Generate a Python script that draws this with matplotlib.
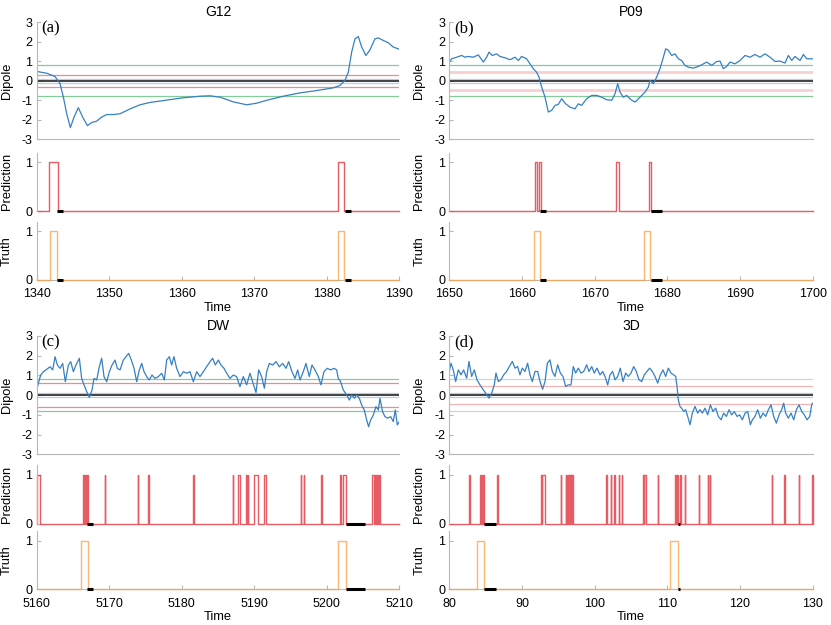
import numpy as np
import matplotlib.pyplot as plt

plt.rcParams['font.family'] = ['Liberation Sans', 'DejaVu Sans']
plt.rcParams['axes.unicode_minus'] = False

# ---- dipole traces ----
t_a = [1340.0, 1341.38, 1342.53, 1343.22, 1343.68, 1344.14, 1344.64, 1345.15, 1345.74, 1346.34,
       1346.99, 1347.58, 1348.27, 1348.96, 1349.65, 1350.57, 1351.49, 1352.87, 1354.25, 1355.63,
       1357.92, 1360.22, 1362.52, 1363.9, 1365.28, 1367.11, 1368.95, 1370.33, 1371.71, 1374.01,
       1376.3, 1378.6, 1380.9, 1381.82, 1382.51, 1382.97, 1383.43, 1383.89, 1384.35, 1384.81,
       1385.4, 1385.96, 1386.64, 1387.1, 1387.79, 1388.48, 1389.17, 1390.0]
d_a = [0.48, 0.39, 0.22, -0.15, -0.84, -1.69, -2.4, -1.86, -1.38, -1.86,
       -2.3, -2.14, -2.07, -1.86, -1.73, -1.73, -1.69, -1.44, -1.23, -1.11,
       -0.99, -0.87, -0.79, -0.77, -0.84, -1.08, -1.23, -1.15, -1.0, -0.79,
       -0.62, -0.5, -0.36, -0.24, 0.02, 0.44, 1.47, 2.15, 2.27, 1.73,
       1.30, 1.59, 2.15, 2.2, 2.07, 1.95, 1.73, 1.62]

t_b = [1650.0, 1650.32, 1651.01, 1651.7, 1652.16, 1652.61, 1653.3, 1653.99, 1654.68, 1655.14,
       1655.46, 1655.92, 1656.51, 1656.97, 1657.66, 1658.35, 1659.04, 1659.5, 1659.95, 1660.64,
       1661.1, 1661.56, 1662.02, 1662.34, 1662.71, 1663.17, 1663.62, 1664.08, 1664.54, 1665.0,
       1665.46, 1666.01, 1666.61, 1667.29, 1667.75, 1668.21, 1668.9, 1669.59, 1670.28, 1670.96,
       1671.65, 1672.34, 1672.8, 1673.17, 1673.49, 1673.94, 1674.4, 1675.0, 1675.55, 1676.24,
       1676.93, 1677.39, 1677.61, 1678.07, 1678.53, 1678.99, 1679.45, 1679.77, 1680.14, 1680.6,
       1681.06, 1681.51, 1681.97, 1682.43, 1682.89, 1683.58, 1684.27, 1684.72, 1685.41, 1686.1,
       1686.79, 1687.25, 1687.71, 1688.17, 1688.62, 1689.31, 1690.0, 1690.69, 1691.38, 1692.06,
       1692.75, 1693.44, 1694.13, 1694.82, 1695.5, 1696.19, 1696.65, 1697.11, 1697.57, 1698.26,
       1698.72, 1699.17, 1700.0]
d_b = [0.96, 1.13, 1.21, 1.30, 1.21, 1.25, 1.21, 1.33, 0.96, 1.21,
       1.47, 1.30, 1.38, 1.25, 1.18, 1.08, 1.21, 1.04, 1.25, 1.13,
       0.87, 0.62, 0.44, 0.19, -0.32, -0.84, -1.6, -1.52, -1.26, -1.21,
       -0.92, -1.18, -1.35, -1.44, -1.18, -1.26, -0.92, -0.75, -0.75, -0.84,
       -0.97, -1.0, -0.67, -0.15, -0.58, -0.84, -0.75, -0.97, -1.09, -0.84,
       -0.58, -0.32, 0.02, -0.15, 0.19, 0.62, 1.21, 1.64, 1.56, 1.30,
       1.38, 1.13, 1.04, 0.79, 0.70, 0.65, 0.74, 0.82, 0.96, 0.79,
       0.99, 1.01, 0.62, 0.74, 0.96, 0.87, 1.04, 1.30, 1.21, 1.35,
       1.21, 1.38, 1.21, 0.99, 1.01, 0.91, 1.30, 1.04, 1.25, 1.04,
       1.35, 1.13, 1.13]

t_c = [5160.0, 5160.23, 5160.55, 5160.92, 5161.38, 5161.84, 5162.21, 5162.53, 5162.85, 5163.22,
       5163.58, 5163.95, 5164.37, 5164.69, 5165.06, 5165.42, 5165.88, 5166.2, 5166.53, 5166.89,
       5167.26, 5167.63, 5167.9, 5168.27, 5168.64, 5168.96, 5169.28, 5169.65, 5170.02, 5170.39,
       5170.8, 5171.12, 5171.49, 5171.95, 5172.32, 5172.68, 5173.05, 5173.42, 5173.79, 5174.15,
       5174.48, 5174.8, 5175.17, 5175.53, 5175.9, 5176.31, 5176.77, 5177.23, 5177.6, 5177.92,
       5178.29, 5178.61, 5178.93, 5179.3, 5179.76, 5180.22, 5180.68, 5181.14, 5181.6, 5182.06,
       5182.52, 5182.98, 5183.44, 5183.9, 5184.26, 5184.63, 5185.05, 5185.41, 5185.83, 5186.2,
       5186.65, 5187.11, 5187.57, 5188.03, 5188.49, 5188.95, 5189.41, 5189.78, 5190.24, 5190.61,
       5191.02, 5191.39, 5191.71, 5192.08, 5192.54, 5193.0, 5193.46, 5193.92, 5194.38, 5194.74,
       5195.2, 5195.62, 5195.98, 5196.31, 5196.76, 5197.13, 5197.59, 5197.96, 5198.37, 5198.83,
       5199.2, 5199.61, 5200.07, 5200.53, 5200.99, 5201.36, 5201.59, 5201.91, 5202.28, 5202.74,
       5203.11, 5203.43, 5203.8, 5204.12, 5204.49, 5204.81, 5205.17, 5205.5, 5205.77, 5206.05,
       5206.42, 5206.78, 5207.11, 5207.33, 5207.7, 5208.02, 5208.39, 5208.81, 5209.17, 5209.45,
       5209.72, 5210.0]
d_c = [0.26, 0.6, 1.02, 1.19, 1.31, 1.44, 1.28, 1.95, 1.53, 1.36,
       1.61, 0.68, 1.53, 1.70, 1.19, 1.53, 1.87, 0.85, 0.52, 0.18,
       -0.11, 0.26, 0.85, 0.77, 1.44, 1.87, 0.94, 0.68, 1.19, 1.53,
       1.78, 1.36, 1.28, 1.78, 1.95, 2.12, 1.78, 1.36, 0.68, 1.28,
       1.61, 1.19, 0.94, 0.77, 1.02, 0.85, 0.94, 1.11, 0.77, 1.78,
       1.95, 1.53, 1.95, 1.36, 0.94, 1.19, 1.11, 1.19, 0.68, 1.19,
       0.94, 1.19, 1.44, 1.70, 1.87, 1.53, 1.78, 1.53, 1.36, 1.11,
       0.85, 1.02, 0.94, 0.43, 0.94, 0.52, 1.11, 0.68, 0.13, 1.28,
       0.94, 0.35, 1.19, 1.61, 1.53, 1.70, 1.44, 1.61, 1.36, 1.70,
       1.19, 0.85, 1.28, 0.77, 1.19, 1.61, 0.94, 1.53, 1.28, 0.94,
       0.52, 1.19, 1.36, 1.28, 1.36, 1.28, 0.85, 0.68, 0.26, 0.01,
       -0.25, 0.01, -0.16, 0.01, -0.16, -0.50, -0.75, -1.26, -1.60, -1.26,
       -1.01, -0.58, -0.75, -0.16, -0.84, -1.09, -1.17, -1.09, -1.34, -0.75,
       -1.51, -1.34]

t_d = [80.0, 80.23, 80.55, 80.87, 81.24, 81.61, 81.97, 82.39, 82.71, 83.07,
       83.44, 83.81, 84.22, 84.68, 85.14, 85.46, 85.83, 86.19, 86.42, 86.74,
       87.11, 87.48, 87.89, 88.26, 88.67, 89.04, 89.4, 89.72, 90.05, 90.41,
       90.78, 91.1, 91.42, 91.79, 92.16, 92.48, 92.84, 93.17, 93.49, 93.85,
       94.17, 94.54, 94.91, 95.28, 95.64, 96.01, 96.38, 96.74, 97.06, 97.39,
       97.75, 98.12, 98.49, 98.9, 99.22, 99.59, 99.95, 100.32, 100.73, 101.1,
       101.42, 101.79, 102.11, 102.48, 102.8, 103.17, 103.53, 103.9, 104.27, 104.63,
       105.0, 105.37, 105.73, 106.1, 106.47, 106.83, 107.2, 107.57, 107.94, 108.3,
       108.67, 109.04, 109.4, 109.77, 110.14, 110.5, 110.87, 111.15, 111.33, 111.51,
       111.74, 111.97, 112.25, 112.52, 112.8, 113.12, 113.44, 113.81, 114.17, 114.5,
       114.82, 115.18, 115.55, 115.92, 116.28, 116.65, 117.02, 117.39, 117.75, 118.12,
       118.49, 118.85, 119.22, 119.59, 119.95, 120.32, 120.69, 121.06, 121.42, 121.7,
       122.06, 122.43, 122.8, 123.17, 123.53, 123.9, 124.27, 124.63, 125.0, 125.37,
       125.73, 126.01, 126.28, 126.65, 127.02, 127.39, 127.75, 128.12, 128.49, 128.85,
       129.22, 129.59, 129.86, 130.0]
d_d = [1.20, 1.62, 1.28, 0.69, 1.28, 1.03, 1.28, 0.86, 1.71, 0.95,
       1.28, 0.78, 0.52, 0.27, 0.02, -0.15, 0.10, 0.52, 1.12, 0.69,
       0.78, 1.03, 1.20, 1.45, 1.71, 1.37, 1.45, 1.03, 1.37, 1.20,
       1.62, 1.03, 0.69, 1.20, 1.20, 0.69, 0.30, 0.69, 1.62, 1.79,
       1.20, 0.95, 1.54, 1.12, 0.95, 0.44, 0.52, 0.52, 1.45, 1.12,
       1.37, 1.12, 1.20, 1.54, 1.20, 1.45, 1.12, 1.37, 1.03, 1.20,
       0.95, 0.52, 1.03, 1.20, 0.78, 0.95, 1.37, 0.69, 1.12, 0.95,
       1.12, 1.45, 1.20, 0.78, 0.69, 1.03, 1.20, 1.37, 1.20, 0.95,
       0.61, 1.03, 1.28, 0.95, 1.37, 1.12, 1.03, 0.95, 0.44, -0.24,
       -0.57, -0.66, -0.83, -0.74, -1.08, -1.50, -0.91, -0.57, -0.91, -0.74,
       -0.91, -0.66, -1.00, -0.49, -0.83, -0.66, -1.08, -1.25, -0.91, -1.08,
       -0.74, -1.00, -0.83, -1.08, -1.00, -1.25, -0.91, -0.83, -1.50, -1.25,
       -1.08, -0.74, -1.17, -0.91, -1.08, -0.74, -0.49, -1.08, -1.42, -1.00,
       -0.74, -0.41, -0.91, -1.17, -0.91, -1.25, -0.74, -0.49, -0.83, -1.00,
       -1.25, -1.08, -0.49, -0.41]

# ---- prediction / truth intervals (value 1 between start and end) ----
pred_a = [(1341.75, 1342.9), (1381.5, 1382.4)]
truth_a = [(1341.8, 1342.85), (1381.5, 1382.4)]
mark_a = [(1342.85, 1343.65), (1382.5, 1383.4)]

pred_b = [(1661.8, 1662.05), (1662.35, 1662.6), (1672.9, 1673.4), (1677.5, 1677.7)]
truth_b = [(1661.7, 1662.5), (1676.8, 1677.65)]
mark_b = [(1662.5, 1663.3), (1677.7, 1679.2)]

pred_c = [(5160.1, 5160.5), (5166.35, 5166.5), (5166.65, 5166.8), (5166.9, 5167.1),
          (5169.4, 5169.45), (5173.9, 5173.95), (5175.4, 5175.45), (5181.6, 5181.65),
          (5187.0, 5187.05), (5187.8, 5188.1), (5188.9, 5189.0), (5189.1, 5189.2),
          (5190.0, 5190.5), (5191.3, 5191.6), (5196.4, 5196.5), (5196.8, 5196.9),
          (5199.2, 5199.3), (5201.8, 5202.0), (5202.2, 5202.6), (5206.3, 5206.45),
          (5206.6, 5206.75), (5206.9, 5207.0), (5207.2, 5207.4)]
truth_c = [(5166.1, 5167.1), (5201.6, 5202.6)]
mark_c = [(5167.0, 5167.8), (5202.7, 5205.3)]

pred_d = [(82.75, 82.8), (84.2, 84.3), (84.45, 84.55), (84.7, 84.8), (86.6, 86.75),
          (92.6, 92.7), (92.8, 93.1), (95.3, 95.35), (96.0, 96.1), (96.15, 96.25),
          (96.3, 96.4), (96.45, 96.55), (96.6, 96.7), (96.75, 96.85), (96.9, 97.0),
          (101.6, 101.65), (102.2, 102.3), (102.7, 102.75), (103.3, 103.35), (103.7, 103.75),
          (106.6, 106.75), (106.8, 107.0), (108.7, 108.75), (111.05, 111.15), (111.3, 111.4),
          (111.8, 111.85), (112.4, 112.45), (114.3, 114.35), (115.6, 115.65), (115.85, 115.9),
          (124.4, 124.45), (126.1, 126.15), (128.1, 128.15), (129.95, 130.0)]
truth_d = [(83.8, 84.8), (110.4, 111.4)]
mark_d = [(84.8, 86.4), (111.4, 111.8)]

names = ['G12', 'P09', 'DW', '3D']
letters = ['(a)', '(b)', '(c)', '(d)']
xlims = [(1340, 1390), (1650, 1700), (5160, 5210), (80, 130)]
thresh_red = [0.3, 0.45, 0.6, 0.45]

W, H = 831, 625
fig = plt.figure(figsize=(W / 100, H / 100), dpi=100)

spine_c = '#b8b8b8'
lab_fs = 9.3


def steps(intervals, t0, t1):
    x = [t0]
    y = [0]
    for s, e in intervals:
        x += [s, s, e, e]
        y += [0, 1, 1, 0]
    x.append(t1)
    y.append(0)
    return x, y


def box(px_left, px_top, px_bottom, px_width):
    return [px_left / W, 1 - px_bottom / H, px_width / W, (px_bottom - px_top) / H]


def style(ax):
    for s in ['top', 'right']:
        ax.spines[s].set_visible(False)
    for s in ['left', 'bottom']:
        ax.spines[s].set_color(spine_c)
        ax.spines[s].set_linewidth(0.8)
    ax.tick_params(direction='in', length=3, color=spine_c, labelsize=9)
    ax.tick_params(axis='y', pad=3)
    ax.tick_params(axis='x', pad=6)
    ax.yaxis.set_label_coords(-0.066, 0.5)


panels = [
    (t_a, d_a, pred_a, truth_a, mark_a),
    (t_b, d_b, pred_b, truth_b, mark_b),
    (t_c, d_c, pred_c, truth_c, mark_c),
    (t_d, d_d, pred_d, truth_d, mark_d),
]

lefts = [36.7, 449.3]
widths = [362.6, 363.4]
rows = [
    # dipole top/bottom, prediction top/bottom, truth top/bottom, title y, letter y
    (22.3, 139.3, 152.7, 211.0, 221.7, 280.0, 12.0, 28.5),
    (336.0, 454.3, 465.0, 524.0, 531.0, 589.3, 326.5, 342.5),
]

for i, (t, d, pr, tr, mk) in enumerate(panels):
    col = i % 2
    row = rows[i // 2]
    L, Wd = lefts[col], widths[col]
    x0, x1 = xlims[i]
    light = (i == 3)

    # dipole
    ax = fig.add_axes(box(L, row[0], row[1], Wd))
    green = '#c9dbd1' if light else '#86cb9a'
    red = '#f4b4b4' if light else '#ef8a90'
    red_lw = 2.0 if i == 1 else 0.9
    if i == 1:
        red = '#f8d0d0'
    ax.axhline(0.8, color=green, lw=0.9)
    ax.axhline(-0.8, color=green, lw=0.9)
    ax.axhline(thresh_red[i], color=red, lw=red_lw)
    ax.axhline(-thresh_red[i], color=red, lw=red_lw)
    ax.axhline(0.1, color='#b5cfe8', lw=0.9)
    ax.axhline(-0.1, color='#b5cfe8', lw=0.9)
    ax.axhline(0, color='#222222', lw=1.2)
    ax.plot(t, d, color='#3680c2', lw=0.9)
    ax.set_xlim(x0, x1)
    ax.set_ylim(-3, 3)
    ax.set_yticks([-3, -2, -1, 0, 1, 2, 3])
    ax.set_xticks([])
    ax.set_ylabel('Dipole', fontsize=lab_fs)
    style(ax)
    fig.text((L + Wd / 2) / W, 1 - row[6] / H, names[i], ha='center', va='center', fontsize=10)
    fig.text((L + 5) / W, 1 - row[7] / H, letters[i], ha='left', va='center',
             fontsize=12, family='Liberation Serif')

    # prediction
    ax = fig.add_axes(box(L, row[2], row[3], Wd))
    x, y = steps(pr, x0, x1)
    ax.plot(x, y, color='#e2323e', lw=1.0, alpha=0.8, clip_on=False)
    for s, e in mk:
        ax.plot([s, e], [0, 0], color='black', lw=2.2, solid_capstyle='butt', clip_on=False)
    ax.set_xlim(x0, x1)
    ax.set_ylim(0, 1.2)
    ax.set_yticks([0, 1])
    ax.set_xticks([])
    ax.set_ylabel('Prediction', fontsize=lab_fs)
    style(ax)
    ax.spines['bottom'].set_visible(False)

    # truth
    ax = fig.add_axes(box(L, row[4], row[5], Wd))
    x, y = steps(tr, x0, x1)
    ax.plot(x, y, color='#f7a552', lw=1.0, alpha=0.8, clip_on=False, zorder=3)
    for s, e in mk:
        ax.plot([s, e], [0, 0], color='black', lw=2.2, solid_capstyle='butt', clip_on=False,
                zorder=4)
    ax.set_xlim(x0, x1)
    ax.set_ylim(0, 1.2)
    ax.set_yticks([0, 1])
    ax.set_xticks(np.arange(x0, x1 + 1, 10))
    ax.set_ylabel('Truth', fontsize=lab_fs)
    ax.set_xlabel('Time', fontsize=lab_fs, labelpad=1)
    style(ax)

fig.savefig('out.png', dpi=100)
